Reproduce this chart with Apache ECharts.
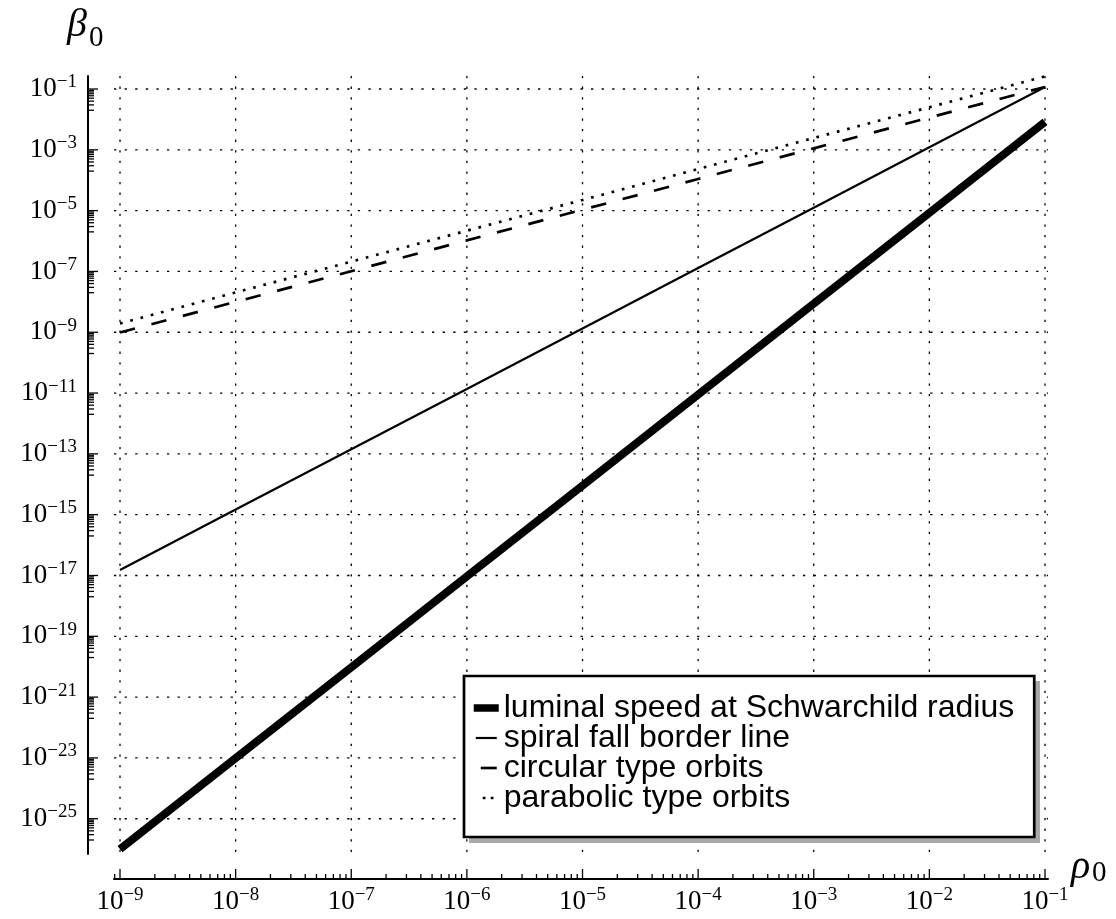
<!DOCTYPE html>
<html>
<head>
<meta charset="utf-8">
<script src="https://cdn.jsdelivr.net/npm/echarts@6/dist/echarts.min.js"></script>
<style>
html,body{margin:0;padding:0;background:#fff;}
#chart{width:1116px;height:919px;}
</style>
</head>
<body>
<div id="chart"></div>
<script>
// ---- data ----
const rho       = [1e-9, 1e-8, 1e-7, 1e-6, 1e-5, 1e-4, 1e-3, 1e-2, 1e-1];
const luminal   = [1.0e-26, 9.8e-24, 9.5e-21, 9.3e-18, 9.1e-15, 8.9e-12, 8.7e-9, 8.5e-6, 8.3e-3];
const spiral    = [1.51e-17, 1.47e-15, 1.42e-13, 1.37e-11, 1.33e-9, 1.29e-7, 1.25e-5, 1.21e-3, 1.17e-1];
const circular  = [0.98e-9, 1.0e-8, 1.02e-7, 1.05e-6, 1.07e-5, 1.10e-4, 1.12e-3, 1.15e-2, 1.17e-1];
const parabolic = [1.95e-9, 2.04e-8, 2.1e-7, 2.19e-6, 2.24e-5, 2.34e-4, 2.45e-3, 2.51e-2, 2.6e-1];

const seriesNames = ['luminal speed at Schwarchild radius', 'spiral fall border line', 'circular type orbits', 'parabolic type orbits'];

// tick label exponents
const xLabelExps = [-9, -8, -7, -6, -5, -4, -3, -2, -1];
const yLabelExps = [-1, -3, -5, -7, -9, -11, -13, -15, -17, -19, -21, -23, -25];
const minorMults = [2, 3, 4, 5, 6, 7, 8, 9];

// axis ranges
const xRange = [Math.pow(10, -9.052), Math.pow(10, -0.974)];
const yRange = [Math.pow(10, -26.16), Math.pow(10, -0.572)];

// ---- derived tick tables ----
const xTicks = [];
xLabelExps.forEach(e => xTicks.push([Math.pow(10, e), yRange[0], 1]));
for (let k = -10; k <= -1; k++) {
  minorMults.forEach(m => {
    const v = m * Math.pow(10, k);
    if (v >= xRange[0] && v <= xRange[1]) xTicks.push([v, yRange[0], 0]);
  });
}
const yTicks = [];
yLabelExps.forEach(e => {
  yTicks.push([xRange[0], Math.pow(10, e), 1]);
  minorMults.forEach(m => {
    const v = m * Math.pow(10, e - 1);
    if (v >= yRange[0] && v <= yRange[1]) yTicks.push([xRange[0], v, 0]);
  });
});
const xGrid = xLabelExps.map(e => [Math.pow(10, e), yRange[0]]);
const yGrid = yLabelExps.map(e => [xRange[0], Math.pow(10, e)]);
const xLabels = xLabelExps.map(e => [Math.pow(10, e), yRange[0], e]);
const yLabels = yLabelExps.map(e => [xRange[0], Math.pow(10, e), e]);

const Y_AXIS_OFFSET = 26, X_AXIS_OFFSET = 25;
const SERIF = 'Liberation Serif';
const labelRich = {
  b: {fontFamily: SERIF, fontSize: 27, lineHeight: 32, color: '#000'},
  s: {fontFamily: SERIF, fontSize: 19, lineHeight: 19, verticalAlign: 'top', color: '#000'}
};
const gridStyle = {stroke: '#000', lineWidth: 1.3, lineDash: [2.3, 8.3], fill: null};
const hiddenSymbol = {opacity: 0, color: 'rgba(0,0,0,0)', borderWidth: 0};

function expText(e) { return '{b|10}{s|\u2212' + Math.abs(e) + '}'; }

const chart = echarts.init(document.getElementById('chart'), null, {renderer: 'canvas'});

const option = {
  animation: false,
  backgroundColor: '#fff',
  grid: {left: 114, right: 68, top: 76, bottom: 65, containLabel: false},
  xAxis: {
    type: 'log', logBase: 10, min: xRange[0], max: xRange[1], position: 'bottom', offset: X_AXIS_OFFSET,
    axisLine: {show: true, onZero: false, lineStyle: {color: '#000', width: 2}},
    axisTick: {show: false}, axisLabel: {show: false}, splitLine: {show: false}, minorTick: {show: false}
  },
  yAxis: {
    type: 'log', logBase: 10, min: yRange[0], max: yRange[1], position: 'left', offset: Y_AXIS_OFFSET,
    axisLine: {show: true, onZero: false, lineStyle: {color: '#000', width: 2}},
    axisTick: {show: false}, axisLabel: {show: false}, splitLine: {show: false}, minorTick: {show: false}
  },
  legend: {
    orient: 'vertical', left: 464, top: 676, z: 6,
    padding: [16, 20, 23, 6],
    itemGap: -2, itemWidth: 25, itemHeight: 28,
    backgroundColor: '#fff', borderColor: '#000', borderWidth: 2.7, borderRadius: 0,
    selectedMode: false,
    textStyle: {fontFamily: 'Liberation Sans', fontSize: 32, color: '#000'},
    data: [
      {name: seriesNames[0], itemStyle: hiddenSymbol, lineStyle: {width: 7.5, type: 'solid', color: '#000'}},
      {name: seriesNames[1], itemStyle: hiddenSymbol, lineStyle: {width: 2.2, type: [21, 40], dashOffset: 59, color: '#000'}},
      {name: seriesNames[2], itemStyle: hiddenSymbol, lineStyle: {width: 2.7, type: [16, 40], dashOffset: 49, color: '#000'}},
      {name: seriesNames[3], itemStyle: hiddenSymbol, lineStyle: {width: 2.7, type: [2.7, 5.3, 2.7, 40], dashOffset: 41.7, color: '#000'}}
    ]
  },
  graphic: [
    // legend drop shadow
    {type: 'rect', z: 5, shape: {x: 469, y: 681, width: 571, height: 162}, style: {fill: '#a8a8a8'}, silent: true},
    {type: 'text', x: 67, y: 25, style: {text: '\u03b2', fontFamily: SERIF, fontStyle: 'italic', fontSize: 40, fill: '#000', verticalAlign: 'middle'}},
    {type: 'text', x: 89, y: 38, style: {text: '0', fontFamily: SERIF, fontSize: 29, fill: '#000', verticalAlign: 'middle'}},
    {type: 'text', x: 1071, y: 867, style: {text: '\u03c1', fontFamily: SERIF, fontStyle: 'italic', fontSize: 40, fill: '#000', verticalAlign: 'middle'}},
    {type: 'text', x: 1092, y: 873, style: {text: '0', fontFamily: SERIF, fontSize: 29, fill: '#000', verticalAlign: 'middle'}}
  ],
  series: [
    // dotted grid lines (vertical)
    {type: 'custom', name: 'gridX', coordinateSystem: 'cartesian2d', clip: false, silent: true, z: 1,
      encode: {x: 0, y: 1}, data: xGrid,
      renderItem: (params, api) => {
        const p1 = api.coord([api.value(0), yRange[1]]);
        const p2 = api.coord([api.value(0), yRange[0]]);
        return {type: 'line', shape: {x1: p1[0], y1: p1[1], x2: p2[0], y2: p2[1]}, style: gridStyle, silent: true};
      }},
    // dotted grid lines (horizontal)
    {type: 'custom', name: 'gridY', coordinateSystem: 'cartesian2d', clip: false, silent: true, z: 1,
      encode: {x: 0, y: 1}, data: yGrid,
      renderItem: (params, api) => {
        const p1 = api.coord([xRange[0], api.value(1)]);
        const p2 = api.coord([xRange[1], api.value(1)]);
        return {type: 'line', shape: {x1: p1[0], y1: p1[1], x2: p2[0], y2: p2[1]}, style: gridStyle, silent: true};
      }},
    // x ticks
    {type: 'custom', name: 'xTicks', coordinateSystem: 'cartesian2d', clip: false, silent: true, z: 5,
      encode: {x: 0, y: 1}, data: xTicks,
      renderItem: (params, api) => {
        const p = api.coord([api.value(0), yRange[0]]);
        const ay = p[1] + X_AXIS_OFFSET;
        const len = api.value(2) ? 10 : 5;
        return {type: 'line', shape: {x1: p[0], y1: ay, x2: p[0], y2: ay - len}, style: {stroke: '#000', lineWidth: 1.3}, silent: true};
      }},
    // y ticks
    {type: 'custom', name: 'yTicks', coordinateSystem: 'cartesian2d', clip: false, silent: true, z: 5,
      encode: {x: 0, y: 1}, data: yTicks,
      renderItem: (params, api) => {
        const p = api.coord([xRange[0], api.value(1)]);
        const ax = p[0] - Y_AXIS_OFFSET;
        const len = api.value(2) ? 10 : 6;
        return {type: 'line', shape: {x1: ax, y1: p[1], x2: ax + len, y2: p[1]}, style: {stroke: '#000', lineWidth: 1.3}, silent: true};
      }},
    // x labels
    {type: 'custom', name: 'xLabels', coordinateSystem: 'cartesian2d', clip: false, silent: true, z: 5,
      encode: {x: 0, y: 1}, data: xLabels,
      renderItem: (params, api) => {
        const p = api.coord([api.value(0), yRange[0]]);
        return {type: 'text', x: p[0], y: p[1] + X_AXIS_OFFSET + 23,
          style: {text: expText(api.value(2)), rich: labelRich, align: 'center', verticalAlign: 'middle', fill: '#000'}, silent: true};
      }},
    // y labels
    {type: 'custom', name: 'yLabels', coordinateSystem: 'cartesian2d', clip: false, silent: true, z: 5,
      encode: {x: 0, y: 1}, data: yLabels,
      renderItem: (params, api) => {
        const p = api.coord([xRange[0], api.value(1)]);
        return {type: 'text', x: p[0] - Y_AXIS_OFFSET - 11, y: p[1],
          style: {text: expText(api.value(2)), rich: labelRich, align: 'right', verticalAlign: 'middle', fill: '#000'}, silent: true};
      }},
    // data lines
    {type: 'line', name: seriesNames[3], data: rho.map((r, i) => [r, parabolic[i]]), showSymbol: false, symbol: 'none', z: 3,
      lineStyle: {color: '#000', width: 2.7, type: [2.7, 7.9], cap: 'butt'}, itemStyle: {color: '#000'}},
    {type: 'line', name: seriesNames[2], data: rho.map((r, i) => [r, circular[i]]), showSymbol: false, symbol: 'none', z: 3,
      lineStyle: {color: '#000', width: 2.7, type: [15.5, 17], cap: 'butt'}, itemStyle: {color: '#000'}},
    {type: 'line', name: seriesNames[1], data: rho.map((r, i) => [r, spiral[i]]), showSymbol: false, symbol: 'none', z: 3,
      lineStyle: {color: '#000', width: 2.2, type: 'solid'}, itemStyle: {color: '#000'}},
    {type: 'line', name: seriesNames[0], data: rho.map((r, i) => [r, luminal[i]]), showSymbol: false, symbol: 'none', z: 3,
      lineStyle: {color: '#000', width: 8, type: 'solid', cap: 'butt'}, itemStyle: {color: '#000'}}
  ]
};
chart.setOption(option);
</script>
</body>
</html>
